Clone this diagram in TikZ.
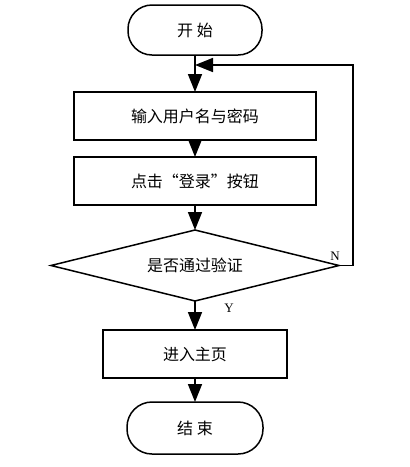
\documentclass[tikz,border=0pt]{standalone}
\usepackage{fontspec}
\setmainfont{Liberation Serif}
\newfontfamily\cjk{Noto Sans CJK SC}
\usetikzlibrary{arrows.meta,positioning,shapes.geometric}

\begin{document}
\begin{tikzpicture}[
    x=1pt, y=1pt,
    font=\cjk\fontsize{16}{19}\selectfont,
    every node/.style={line width=1.5pt, outer sep=0pt},
    term/.style={draw, rounded corners=24pt, minimum width=134pt, minimum height=50pt},
    proc/.style={draw, minimum width=242pt, minimum height=48pt},
    check/.style={draw, diamond, shape aspect=4, inner sep=0pt, minimum width=288pt, minimum height=71pt},
    arrow/.style={-{Triangle[length=18pt, width=14pt]}, line width=1.6pt},
    mark label/.style={font=\fontsize{13}{15}\selectfont}
  ]
    \useasboundingbox (0,0) rectangle (410,-467);
    \node[term] (start) at (195,-30) {开\ 始};
    \node[proc, below=37pt of start] (input) {输入用户名与密码};
    \node[proc, below=17pt of input] (click) {点击“登录”按钮};
    \node[check, below=25pt of click] (verify) {是否通过验证};
    \node[proc, below=29pt of verify, minimum width=184pt] (home) {进入主页};
    \node[term, below=24pt of home, minimum width=136pt, minimum height=52pt, rounded corners=25pt] (stop) {结\ 束};
    \coordinate (join) at ([yshift=-10pt]start.south);
    \draw[arrow] (start) -- (input);
    \draw[arrow] (input) -- (click);
    \draw[arrow] (click) -- (verify);
    \draw[arrow] (verify) -- (home);
    \draw[arrow] (home) -- (stop);
    \draw[arrow] (verify.east) -- ++(14,0) |- (join);
    \node[mark label, above left=2pt and -4pt of verify.east] (nlab) {N};
    \node[mark label, below right=0pt and 26pt of verify.south] (ylab) {Y};
  \end{tikzpicture}
\end{document}
